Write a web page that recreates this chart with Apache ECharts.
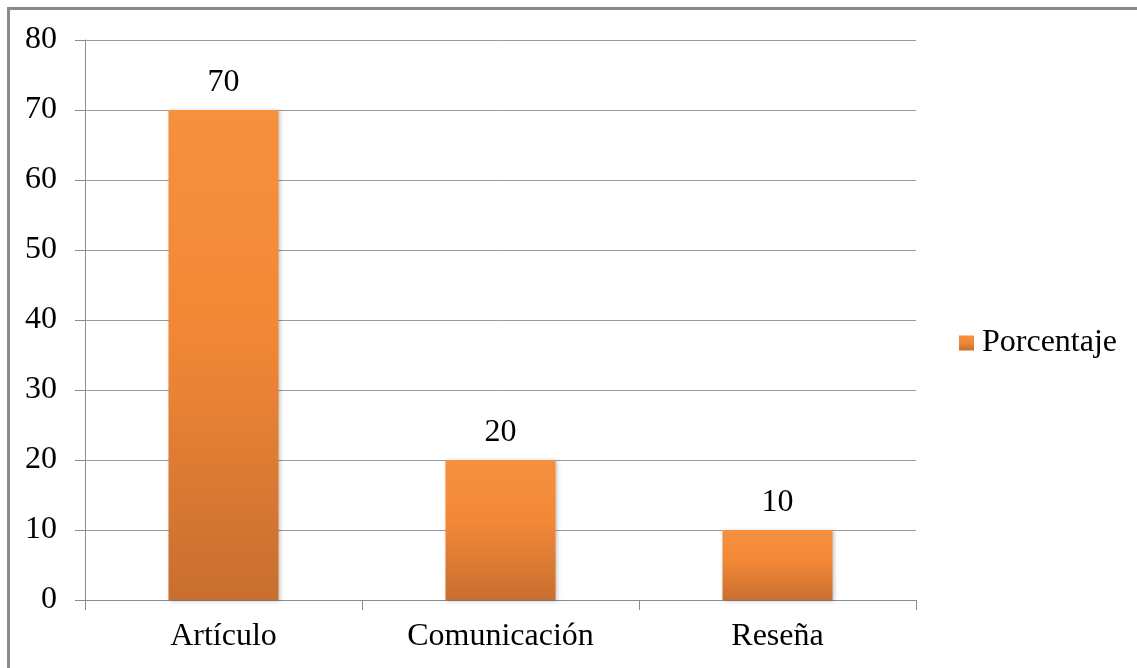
<!DOCTYPE html>
<html>
<head>
<meta charset="utf-8">
<style>
  html, body { margin: 0; padding: 0; background: #ffffff; }
  #chart { width: 1137px; height: 668px; }
</style>
<script src="https://cdn.jsdelivr.net/npm/echarts@6/dist/echarts.min.js"></script>
</head>
<body>
<div id="chart"></div>
<script>
// Document types and their share
const categories = ['Artículo', 'Comunicación', 'Reseña'];
const seriesName = 'Porcentaje';
const values = [70, 20, 10];
const yTicks = { min: 0, max: 80, interval: 10 };

const FONT = '"Liberation Serif", "Times New Roman", serif';
const FONT_SIZE = 32;

const barGradient = new echarts.graphic.LinearGradient(0, 0, 0, 1, [
  { offset: 0, color: '#F5903F' },
  { offset: 0.45, color: '#F28836' },
  { offset: 1, color: '#C86E30' }
]);

const chart = echarts.init(document.getElementById('chart'), null, { renderer: 'canvas' });

chart.setOption({
  animation: false,
  backgroundColor: '#ffffff',
  graphic: [{
    type: 'rect',
    silent: true,
    z: -10,
    shape: { x: 8.5, y: 8.5, width: 1200, height: 700 },
    style: { fill: 'none', stroke: '#8a8a8a', lineWidth: 3 }
  }],
  grid: { left: 85, right: 221, top: 40, bottom: 68, containLabel: false },
  legend: {
    data: [seriesName],
    orient: 'vertical',
    left: 954,
    top: 322,
    itemWidth: 15,
    itemHeight: 15,
    icon: 'rect',
    textStyle: { fontFamily: FONT, fontSize: FONT_SIZE, color: '#000', padding: [0, 0, 0, 3] }
  },
  xAxis: {
    type: 'category',
    data: categories,
    axisLine: { lineStyle: { color: '#8c8c8c', width: 1 } },
    axisTick: { show: true, length: 10, alignWithLabel: false, lineStyle: { color: '#8c8c8c' } },
    axisLabel: { fontFamily: FONT, fontSize: FONT_SIZE, color: '#000', margin: 21 }
  },
  yAxis: {
    type: 'value',
    min: yTicks.min,
    max: yTicks.max,
    interval: yTicks.interval,
    axisLine: { show: true, lineStyle: { color: '#8c8c8c', width: 1 } },
    axisTick: { show: true, length: 10, lineStyle: { color: '#8c8c8c' } },
    axisLabel: { fontFamily: FONT, fontSize: FONT_SIZE, color: '#000', margin: 28 },
    splitLine: { show: true, lineStyle: { color: '#9a9a9a', width: 1 } }
  },
  series: [{
    name: seriesName,
    type: 'bar',
    data: values,
    barWidth: 110,
    itemStyle: {
      color: barGradient,
      shadowColor: 'rgba(0,0,0,0.25)',
      shadowBlur: 4,
      shadowOffsetX: 1,
      shadowOffsetY: 1
    },
    label: {
      show: true,
      position: 'top',
      distance: 11,
      fontFamily: FONT,
      fontSize: FONT_SIZE,
      color: '#000'
    }
  }]
});
</script>
</body>
</html>
